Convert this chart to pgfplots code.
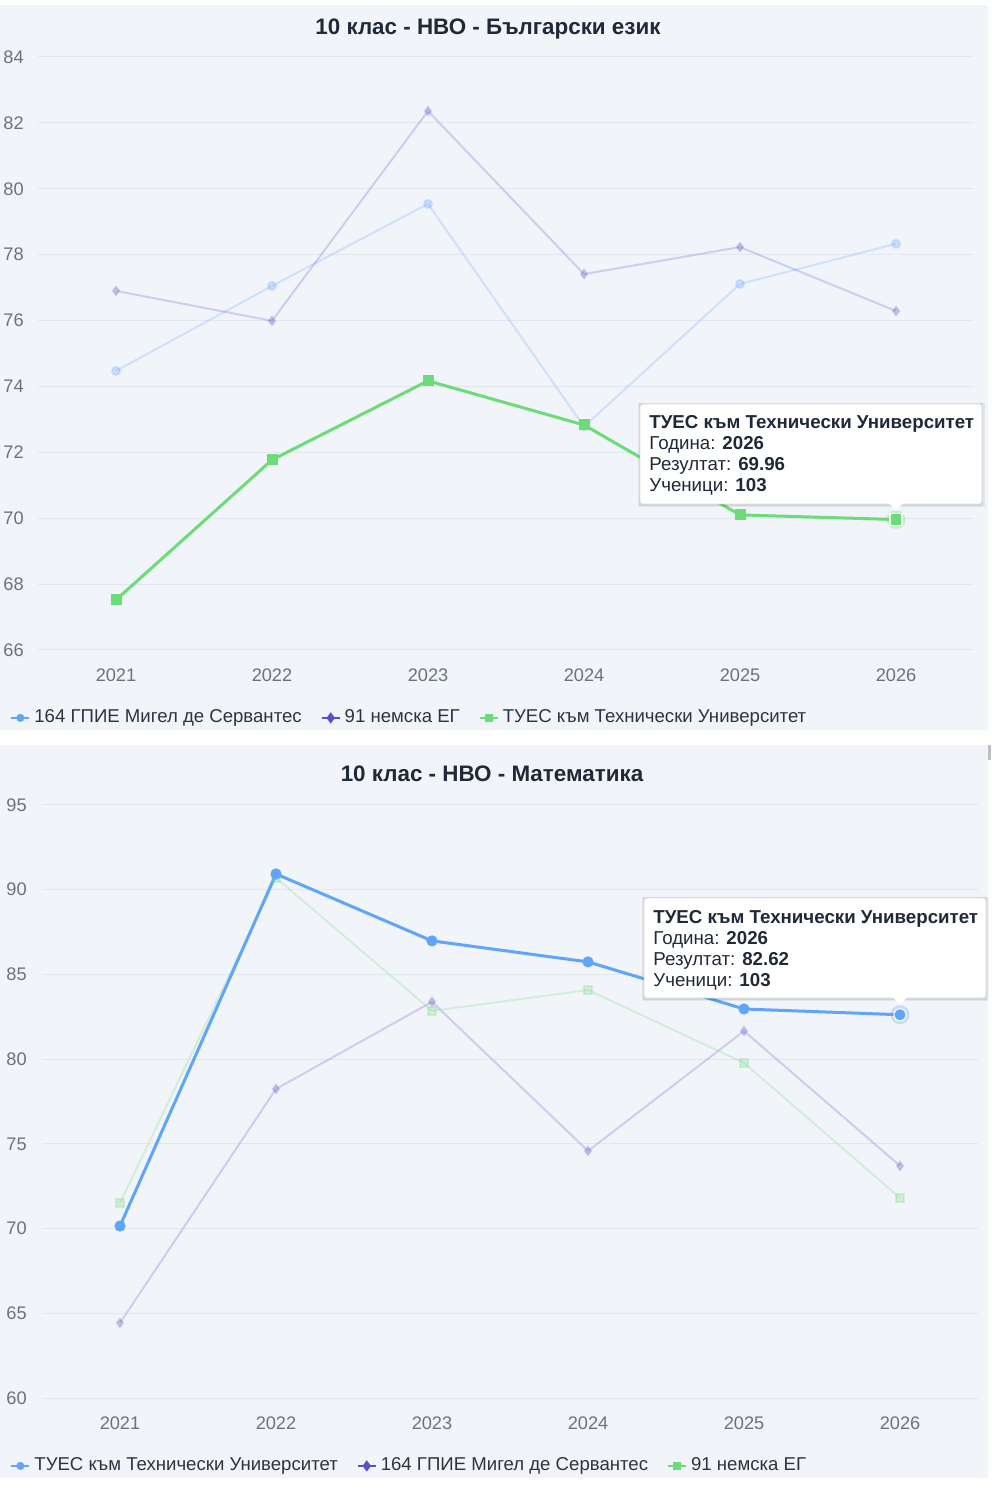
\documentclass[border=0pt]{standalone}
\usepackage{pgfplots}
\pgfplotsset{compat=1.18}
\usepackage{fontspec}
\setmainfont{Liberation Sans}
\definecolor{cblue}{HTML}{60A5FA}
\definecolor{cpurple}{HTML}{5850C8}
\definecolor{cgreen}{HTML}{6BDC77}
\definecolor{panel}{HTML}{F1F4F9}
\definecolor{gridc}{HTML}{E2E6EE}
\definecolor{tickc}{HTML}{6B7280}
\definecolor{titlec}{HTML}{1F2937}
\definecolor{legc}{HTML}{2D3340}
\pgfplotsset{
  myaxis/.style={
    scale only axis, width=468pt, height=296.5pt,
    anchor=south west,
    xmin=2020.5, xmax=2026.5,
    xtick={2021,2022,2023,2024,2025,2026},
    xticklabels={2021,2022,2023,2024,2025,2026},
    axis line style={draw=none},
    major tick length=0pt,
    ymajorgrids, grid style={gridc, line width=0.5pt},
    tick label style={font=\fontsize{9.1}{10}\selectfont, text=tickc},
    /pgf/number format/assume math mode=true,
    yticklabel style={anchor=west, inner sep=0pt},
    xticklabel style={anchor=center, inner sep=0pt, yshift=-12.5pt},
    clip=false,
    legend columns=3,
    legend style={draw=none, fill=none, inner sep=0pt, anchor=west,
      font=\fontsize{9.3}{10}\selectfont, text=legc,
      /tikz/every even column/.append style={column sep=7.5pt}},
    legend image code/.code={\draw[mark repeat=2,mark phase=2] plot coordinates {(0pt,0pt) (4.5pt,0pt) (9pt,0pt)};},
  },
  faded/.style={line width=1pt, opacity=0.23, mark size=2pt, forget plot},
  strong/.style={line width=1.5pt, mark size=2pt, forget plot},
}
\newcommand{\tf}{\fontsize{9.35}{10}\selectfont}
\begin{document}
\begin{tikzpicture}
\fill[white] (0pt,0pt) rectangle (495.5pt,746.5pt);
\fill[panel] (0pt,381.5pt) rectangle (494pt,744pt);
\fill[panel] (0pt,7.5pt) rectangle (494pt,374pt);
\fill[black!25] (494pt,366.5pt) rectangle (495.5pt,374pt);

\node[anchor=base, font=\fontsize{11.2}{12}\selectfont\bfseries, text=titlec] at (244pt,729.0pt) {10 клас - НВО - Български език};
\node[anchor=base, font=\fontsize{11.2}{12}\selectfont\bfseries, text=titlec] at (246pt,355.5pt) {10 клас - НВО - Математика};

% ---------- top chart ----------
\begin{axis}[myaxis, at={(19pt,421.5pt)},
  ymin=66, ymax=84, ytick={66,68,...,84},
  yticklabel style={xshift=-17.5pt},
  legend style={at={(axis description cs:-0.0299,-0.1145)}}]
\addlegendimage{cblue, line width=1pt, mark=*, mark size=1.5pt}
\addlegendentry{164 ГПИЕ Мигел де Сервантес}
\addlegendimage{cpurple, line width=1pt, mark=diamond*, mark size=2pt}
\addlegendentry{91 немска ЕГ}
\addlegendimage{cgreen, line width=1pt, mark=square*, mark size=1.5pt}
\addlegendentry{ТУЕС към Технически Университет}
\addplot[cblue, faded, mark=*] coordinates {(2021,74.47) (2022,77.05) (2023,79.54) (2024,72.78) (2025,77.11) (2026,78.33)};
\addplot[cpurple, faded, mark=diamond*] coordinates {(2021,76.90) (2022,75.99) (2023,82.36) (2024,77.41) (2025,78.23) (2026,76.29)};
\addplot[cgreen, strong, mark=square*] coordinates {(2021,67.52) (2022,71.77) (2023,74.17) (2024,72.83) (2025,70.10) (2026,69.96)};
\addplot[only marks, mark=*, mark size=4.5pt, cgreen, opacity=0.25, forget plot] coordinates {(2026,69.96)};
\addplot[only marks, mark=square*, mark size=3pt, fill=cgreen, draw=white, line width=0.75pt, forget plot] coordinates {(2026,69.96)};
\end{axis}

% ---------- bottom chart ----------
\begin{axis}[myaxis, at={(21pt,47.5pt)},
  ymin=60, ymax=95, ytick={60,65,...,95},
  yticklabel style={xshift=-18pt},
  legend style={at={(axis description cs:-0.0342,-0.1145)}}]
\addlegendimage{cblue, line width=1pt, mark=*, mark size=1.5pt}
\addlegendentry{ТУЕС към Технически Университет}
\addlegendimage{cpurple, line width=1pt, mark=diamond*, mark size=2pt}
\addlegendentry{164 ГПИЕ Мигел де Сервантес}
\addlegendimage{cgreen, line width=1pt, mark=square*, mark size=1.5pt}
\addlegendentry{91 немска ЕГ}
\addplot[cpurple, faded, mark=diamond*] coordinates {(2021,64.43) (2022,78.24) (2023,83.38) (2024,74.58) (2025,81.66) (2026,73.70)};
\addplot[cgreen, faded, mark=square*] coordinates {(2021,71.51) (2022,90.70) (2023,82.85) (2024,84.08) (2025,79.78) (2026,71.81)};
\addplot[cblue, strong, mark=*] coordinates {(2021,70.15) (2022,90.93) (2023,86.98) (2024,85.74) (2025,82.96) (2026,82.62)};
\addplot[only marks, mark=*, mark size=4.5pt, cblue, opacity=0.25, forget plot] coordinates {(2026,82.62)};
\addplot[only marks, mark=*, mark size=3pt, fill=cblue, draw=white, line width=0.5pt, forget plot] coordinates {(2026,82.62)};
\end{axis}

% ---------- tooltips ----------
\fill[black, opacity=0.06] (319pt,493pt) rectangle (492.5pt,545pt);
\fill[black, opacity=0.08] (319.7pt,493.7pt) rectangle (491.7pt,544.8pt);
\filldraw[fill=white, draw=black!12, line width=0.4pt, rounded corners=1.5pt] (320pt,494.5pt) rectangle (491pt,544.5pt);
\fill[white] (444.5pt,494.9pt) -- (448pt,491pt) -- (451.5pt,494.9pt) -- cycle;
\node[anchor=base west, inner sep=0pt, font=\tf\bfseries, text=titlec] at (324.5pt,532.2pt) {ТУЕС към Технически Университет};
\node[anchor=base west, inner sep=0pt, font=\tf, text=titlec] at (324.5pt,521.7pt) {Година: \textbf{2026}};
\node[anchor=base west, inner sep=0pt, font=\tf, text=titlec] at (324.5pt,511.2pt) {Резултат: \textbf{69.96}};
\node[anchor=base west, inner sep=0pt, font=\tf, text=titlec] at (324.5pt,500.7pt) {Ученици: \textbf{103}};

\fill[black, opacity=0.06] (321pt,246pt) rectangle (494.5pt,298pt);
\fill[black, opacity=0.08] (321.7pt,246.7pt) rectangle (493.7pt,297.8pt);
\filldraw[fill=white, draw=black!12, line width=0.4pt, rounded corners=1.5pt] (322pt,247.5pt) rectangle (493pt,297.5pt);
\fill[white] (446.5pt,247.9pt) -- (450pt,244pt) -- (453.5pt,247.9pt) -- cycle;
\node[anchor=base west, inner sep=0pt, font=\tf\bfseries, text=titlec] at (326.5pt,284.7pt) {ТУЕС към Технически Университет};
\node[anchor=base west, inner sep=0pt, font=\tf, text=titlec] at (326.5pt,274.2pt) {Година: \textbf{2026}};
\node[anchor=base west, inner sep=0pt, font=\tf, text=titlec] at (326.5pt,263.7pt) {Резултат: \textbf{82.62}};
\node[anchor=base west, inner sep=0pt, font=\tf, text=titlec] at (326.5pt,253.2pt) {Ученици: \textbf{103}};
\end{tikzpicture}
\end{document}
